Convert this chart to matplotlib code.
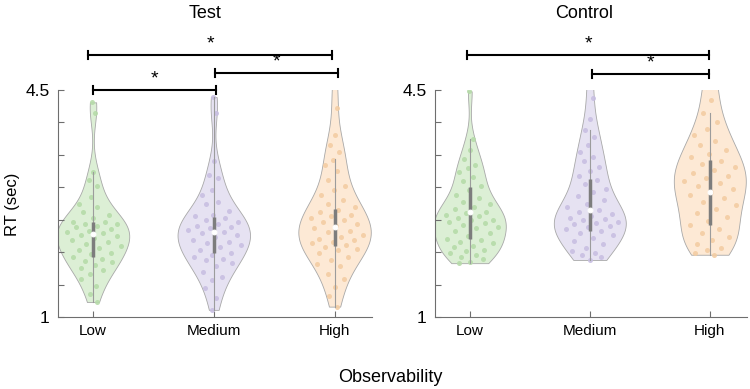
import numpy as np
import matplotlib.pyplot as plt
from matplotlib import mlab

plt.rcParams['font.family'] = ['Liberation Sans', 'DejaVu Sans']

levels = ["Low", "Medium", "High"]

# RT (sec) samples
test_low = [4.31, 4.15, 3.24, 3.11, 3.02, 2.85, 2.75, 2.70, 2.62, 2.58, 2.52, 2.47, 2.46, 2.44,
            2.43, 2.41, 2.39, 2.36, 2.33, 2.31, 2.29, 2.27, 2.25, 2.22, 2.19, 2.16, 2.12, 2.10,
            2.06, 2.03, 1.99, 1.97, 1.93, 1.90, 1.87, 1.85, 1.80, 1.76, 1.72, 1.66, 1.58, 1.48,
            1.36, 1.23]
test_med = [4.39, 4.14, 3.40, 3.19, 3.14, 2.96, 2.88, 2.78, 2.75, 2.64, 2.58, 2.55, 2.52, 2.49,
            2.46, 2.44, 2.41, 2.39, 2.37, 2.34, 2.31, 2.29, 2.26, 2.23, 2.19, 2.16, 2.14, 2.11,
            2.08, 2.04, 1.99, 1.96, 1.93, 1.90, 1.88, 1.83, 1.78, 1.70, 1.62, 1.57, 1.45, 1.30,
            1.11]
test_high = [4.60, 4.22, 3.80, 3.65, 3.55, 3.42, 3.35, 3.25, 3.11, 3.02, 2.96, 2.88, 2.80, 2.74,
             2.70, 2.65, 2.62, 2.58, 2.55, 2.52, 2.49, 2.46, 2.44, 2.40, 2.37, 2.33, 2.31, 2.27,
             2.24, 2.21, 2.19, 2.16, 2.14, 2.11, 2.08, 2.05, 2.03, 1.98, 1.93, 1.88, 1.82, 1.78,
             1.67, 1.58, 1.47, 1.32, 1.16]
control_low = [4.48, 3.74, 3.57, 3.44, 3.35, 3.29, 3.24, 3.16, 3.09, 3.02, 2.96, 2.88, 2.83,
               2.78, 2.75, 2.70, 2.67, 2.62, 2.60, 2.57, 2.55, 2.52, 2.50, 2.49, 2.47, 2.45,
               2.42, 2.39, 2.37, 2.33, 2.29, 2.25, 2.21, 2.19, 2.16, 2.14, 2.10, 2.08, 2.04,
               2.01, 1.98, 1.95, 1.92, 1.89, 1.85, 1.83]
control_med = [4.70, 4.37, 4.05, 3.88, 3.78, 3.65, 3.55, 3.47, 3.40, 3.32, 3.25, 3.18, 3.11,
               3.05, 2.98, 2.92, 2.86, 2.80, 2.74, 2.69, 2.65, 2.62, 2.59, 2.56, 2.53, 2.51,
               2.49, 2.47, 2.45, 2.43, 2.41, 2.39, 2.36, 2.33, 2.30, 2.26, 2.22, 2.17, 2.12,
               2.07, 2.02, 1.98, 1.95, 1.92, 1.88]
control_high = [4.75, 4.55, 4.35, 4.14, 4.00, 3.90, 3.80, 3.72, 3.65, 3.58, 3.52, 3.46, 3.41,
                3.36, 3.31, 3.27, 3.22, 3.18, 3.14, 3.10, 3.06, 3.02, 2.98, 2.93, 2.88, 2.83,
                2.78, 2.72, 2.66, 2.60, 2.54, 2.48, 2.42, 2.36, 2.30, 2.24, 2.18, 2.12, 2.07,
                2.03, 1.99, 1.96]

# box summaries
test_median = [2.28, 2.31, 2.39]
test_q1 = [1.93, 1.99, 2.09]
test_q3 = [2.47, 2.54, 2.66]
test_whisk = [3.24, 4.39, 3.44]
control_median = [2.62, 2.65, 2.93]
control_q1 = [2.20, 2.33, 2.42]
control_q3 = [3.00, 3.13, 3.42]
control_whisk = [3.74, 3.88, 4.15]

fills = ['#dcefd5', '#e6e2f2', '#fde9d5']
dots = ['#b6dba9', '#c8bfe2', '#f3cda3']
BW = 0.4
WID = 0.6


def panel(ax, groups, med, q1, q3, whi):
    pos = [1, 2, 3]
    parts = ax.violinplot(groups, positions=pos, widths=WID, showextrema=False,
                          bw_method=BW)
    for body, c in zip(parts['bodies'], fills):
        body.set_facecolor(c)
        body.set_edgecolor('#a8a8a8')
        body.set_linewidth(0.6)
        body.set_alpha(1)
        body.set_zorder(1)
    for k, vals in enumerate(groups):
        vals = np.asarray(vals)
        kde = mlab.GaussianKDE(vals, BW)
        grid = np.linspace(vals.min(), vals.max(), 100)
        dmax = kde.evaluate(grid).max()
        half = kde.evaluate(vals) / dmax * WID / 2
        u = 2 * ((np.arange(len(vals)) * 0.618034 + 0.31) % 1) - 1
        ax.scatter(pos[k] + 0.8 * half * u, vals, s=13, color=dots[k], alpha=0.9,
                   lw=0, zorder=2)
        ax.plot([pos[k], pos[k]], [vals.min(), whi[k]], color='#9c9c9c', lw=0.8, zorder=3)
        ax.plot([pos[k], pos[k]], [q1[k], q3[k]], color='#7d7d7d', lw=2.5,
                solid_capstyle='butt', zorder=4)
        ax.plot(pos[k], med[k], 'o', ms=3.4, mfc='white', mec='white', mew=0.8, zorder=5)

    ax.set_xlim(0.71, 3.31)
    ax.set_ylim(1, 4.5)
    ax.set_xticks(pos)
    ax.set_xticklabels(levels, fontsize=11)
    yt = np.arange(1, 4.51, 0.5)
    ax.set_yticks(yt)
    ax.set_yticklabels(['1'] + [''] * 6 + ['4.5'], fontsize=12.5)
    ax.tick_params(direction='in', length=4.5, width=0.8, color='#6e6e6e')
    ax.tick_params(axis='x', pad=5)
    ax.tick_params(axis='y', pad=6)
    for s in ['top', 'right']:
        ax.spines[s].set_visible(False)
    for s in ['left', 'bottom']:
        ax.spines[s].set_color('#6e6e6e')
        ax.spines[s].set_linewidth(0.8)


def sig(ax, x0, x1, y):
    kw = dict(color='black', lw=1.5, clip_on=False, zorder=6)
    ax.plot([x0, x1], [y, y], **kw)
    ax.plot([x0, x0], [y - 0.065, y + 0.065], **kw)
    ax.plot([x1, x1], [y - 0.065, y + 0.065], **kw)
    ax.text((x0 + x1) / 2, y + 0.04, '*', ha='center', va='bottom', fontsize=14,
            clip_on=False)


fig = plt.figure(figsize=(7.5, 3.89), dpi=100)
ax1 = fig.add_axes([0.0773, 0.1851, 0.4187, 0.5835])
ax2 = fig.add_axes([0.58, 0.1851, 0.416, 0.5835])

panel(ax1, [test_low, test_med, test_high], test_median, test_q1, test_q3, test_whisk)
panel(ax2, [control_low, control_med, control_high], control_median, control_q1,
      control_q3, control_whisk)

sig(ax1, 0.96, 2.98, 5.04)
sig(ax1, 2.01, 3.03, 4.76)
sig(ax1, 1.00, 2.02, 4.50)
sig(ax2, 0.98, 2.99, 5.04)
sig(ax2, 2.02, 2.99, 4.75)

fig.text(205 / 750, 1 - 13 / 389, 'Test', ha='center', va='center', fontsize=13)
fig.text(584 / 750, 1 - 13 / 389, 'Control', ha='center', va='center', fontsize=13)
fig.text(390 / 750, 1 - 377 / 389, 'Observability', ha='center', va='center', fontsize=13)
fig.text(12 / 750, 1 - 204 / 389, 'RT (sec)', ha='center', va='center', fontsize=12,
         rotation=90)

fig.savefig('out.png', dpi=100)
